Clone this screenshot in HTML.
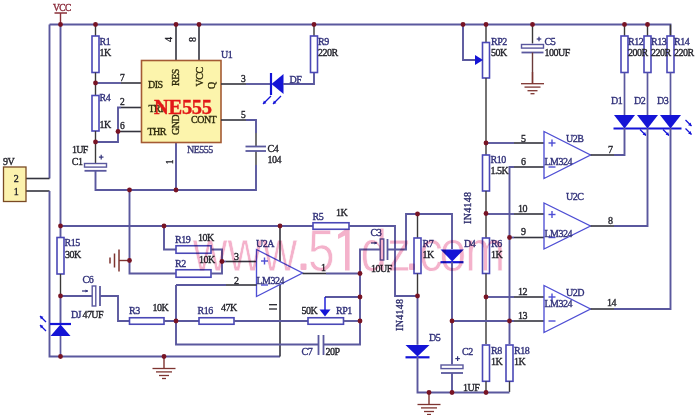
<!DOCTYPE html>
<html><head><meta charset="utf-8"><style>
html,body{margin:0;padding:0;background:#fff;overflow:hidden;}
svg{display:block;}
</style></head><body>
<svg width="700" height="415" viewBox="0 0 700 415">
<rect width="700" height="415" fill="#fff"/>
<polyline points="49.5,24.5 670.5,24.5 670.5,36" fill="none" stroke="#5a589e" stroke-width="1.9"/>
<polyline points="49.5,24.5 49.5,178.5" fill="none" stroke="#5a589e" stroke-width="1.9"/>
<polyline points="26,178.5 49.5,178.5" fill="none" stroke="#34343e" stroke-width="1.6"/>
<polyline points="26,191 49.5,191" fill="none" stroke="#34343e" stroke-width="1.6"/>
<polyline points="49.5,191 49.5,356.5 280,356.5" fill="none" stroke="#5a589e" stroke-width="1.9"/>
<line x1="60.5" y1="13" x2="60.5" y2="24.5" stroke="#8a3038" stroke-width="1.4"/>
<line x1="54.5" y1="13" x2="67" y2="13" stroke="#8a3038" stroke-width="1.5"/>
<polyline points="60.5,24.5 60.5,237.5" fill="none" stroke="#5a589e" stroke-width="1.9"/>
<rect x="57.0" y="237.5" width="7" height="36.5" fill="#fff" stroke="#4a48b6" stroke-width="1.6"/>
<line x1="60.5" y1="274" x2="60.5" y2="296" stroke="#3a3838" stroke-width="1.4"/>
<polyline points="60.5,296 60.5,324" fill="none" stroke="#5a589e" stroke-width="1.9"/>
<line x1="60.5" y1="336" x2="60.5" y2="356.5" stroke="#5a589e" stroke-width="1.7"/>
<line x1="95.5" y1="24.5" x2="95.5" y2="36" stroke="#3a3838" stroke-width="1.4"/>
<rect x="92.0" y="36" width="7" height="36.5" fill="#fff" stroke="#4a48b6" stroke-width="1.6"/>
<line x1="95.5" y1="72.5" x2="95.5" y2="83" stroke="#3a3838" stroke-width="1.4"/>
<line x1="95.5" y1="83" x2="95.5" y2="95.5" stroke="#3a3838" stroke-width="1.4"/>
<rect x="92.0" y="95.5" width="7" height="35.5" fill="#fff" stroke="#4a48b6" stroke-width="1.6"/>
<line x1="95.5" y1="131" x2="95.5" y2="142" stroke="#3a3838" stroke-width="1.4"/>
<polyline points="95.5,83 121,83" fill="none" stroke="#5a589e" stroke-width="1.9"/>
<polyline points="121,83 141.5,83" fill="none" stroke="#34343e" stroke-width="1.6"/>
<polyline points="95.5,142 118,142 118,107.5 121,107.5" fill="none" stroke="#5a589e" stroke-width="1.9"/>
<polyline points="121,107.5 141.5,107.5" fill="none" stroke="#34343e" stroke-width="1.6"/>
<polyline points="118,131.5 141.5,131.5" fill="none" stroke="#34343e" stroke-width="1.6"/>
<line x1="95.5" y1="142" x2="95.5" y2="163" stroke="#3a3838" stroke-width="1.4"/>
<rect x="84.5" y="163.5" width="22" height="3.6" fill="#fff" stroke="#5a589e" stroke-width="1.4"/>
<line x1="84.5" y1="170.8" x2="106.5" y2="170.8" stroke="#5a589e" stroke-width="1.8"/>
<polyline points="95.5,171 95.5,190 256,190 256,165" fill="none" stroke="#5a589e" stroke-width="1.9"/>
<line x1="98.9" y1="157.1" x2="103.5" y2="157.1" stroke="#31317a" stroke-width="1.2"/>
<line x1="101.2" y1="154.79999999999998" x2="101.2" y2="159.4" stroke="#31317a" stroke-width="1.2"/>
<rect x="3.5" y="167" width="22.5" height="34.5" fill="#fcf2ae" stroke="#7a4a24" stroke-width="1.3"/>
<polyline points="176,24.5 176,60" fill="none" stroke="#34343e" stroke-width="1.6"/>
<polyline points="199,24.5 199,60" fill="none" stroke="#34343e" stroke-width="1.6"/>
<polyline points="176,142.5 176,190" fill="none" stroke="#5a589e" stroke-width="1.9"/>
<rect x="141.5" y="60.5" width="79.5" height="82" fill="#fcf4ac" stroke="#a45a34" stroke-width="1.6"/>
<polyline points="221,84 246,84" fill="none" stroke="#34343e" stroke-width="1.6"/>
<polyline points="246,84 271,84" fill="none" stroke="#5a589e" stroke-width="1.9"/>
<polygon points="283.5,74 283.5,94 271.5,84" fill="#1414d6"/>
<line x1="271" y1="73" x2="271" y2="95" stroke="#1414d6" stroke-width="2.2"/>
<polyline points="283,84 314,84 314,72.5" fill="none" stroke="#5a589e" stroke-width="1.9"/>
<line x1="271" y1="96" x2="263" y2="104" stroke="#1414d6" stroke-width="1.2"/>
<polygon points="263,104 266.39,103.15 263.85,100.61" fill="#1414d6"/>
<line x1="281" y1="96" x2="273" y2="104" stroke="#1414d6" stroke-width="1.2"/>
<polygon points="273,104 276.39,103.15 273.85,100.61" fill="#1414d6"/>
<line x1="314" y1="24.5" x2="314" y2="36" stroke="#3a3838" stroke-width="1.4"/>
<rect x="310.5" y="36" width="7" height="36.5" fill="#fff" stroke="#4a48b6" stroke-width="1.6"/>
<polyline points="221,120 246,120" fill="none" stroke="#34343e" stroke-width="1.6"/>
<polyline points="246,120 256,120 256,133" fill="none" stroke="#5a589e" stroke-width="1.9"/>
<line x1="256" y1="133" x2="256" y2="146.5" stroke="#3a3838" stroke-width="1.4"/>
<line x1="256" y1="151" x2="256" y2="165" stroke="#3a3838" stroke-width="1.4"/>
<line x1="245.5" y1="146.5" x2="266" y2="146.5" stroke="#5a589e" stroke-width="1.8"/>
<line x1="245.5" y1="151" x2="266" y2="151" stroke="#5a589e" stroke-width="1.8"/>
<line x1="486" y1="24.5" x2="486" y2="42.5" stroke="#3a3838" stroke-width="1.4"/>
<rect x="482.5" y="42.5" width="7" height="35.5" fill="#fff" stroke="#4a48b6" stroke-width="1.6"/>
<line x1="486" y1="78" x2="486" y2="143" stroke="#3a3838" stroke-width="1.4"/>
<polyline points="463,24.5 463,60 476,60" fill="none" stroke="#5a589e" stroke-width="1.9"/>
<polygon points="483,60 475,55 475,65" fill="#1414d6"/>
<line x1="532.5" y1="24.5" x2="532.5" y2="43.5" stroke="#3a3838" stroke-width="1.4"/>
<rect x="521.5" y="44.5" width="22" height="3.6" fill="#fff" stroke="#5a589e" stroke-width="1.4"/>
<line x1="521.5" y1="52.5" x2="543.5" y2="52.5" stroke="#5a589e" stroke-width="1.8"/>
<line x1="532.5" y1="52.5" x2="532.5" y2="84" stroke="#6a3a3a" stroke-width="1.4"/>
<line x1="532.5" y1="72" x2="532.5" y2="83.7" stroke="#7e3430" stroke-width="1.4"/>
<line x1="521.0" y1="83.7" x2="544.0" y2="83.7" stroke="#7e3430" stroke-width="1.3"/>
<line x1="524.5" y1="87.10000000000001" x2="540.5" y2="87.10000000000001" stroke="#7e3430" stroke-width="1.3"/>
<line x1="527.5" y1="90.7" x2="537.5" y2="90.7" stroke="#7e3430" stroke-width="1.3"/>
<line x1="530.5" y1="93.7" x2="534.5" y2="93.7" stroke="#7e3430" stroke-width="1.3"/>
<line x1="536.7" y1="39" x2="541.3" y2="39" stroke="#31317a" stroke-width="1.2"/>
<line x1="539" y1="36.7" x2="539" y2="41.3" stroke="#31317a" stroke-width="1.2"/>
<line x1="624.5" y1="24.5" x2="624.5" y2="36" stroke="#3a3838" stroke-width="1.4"/>
<rect x="621.0" y="36" width="7" height="36.5" fill="#fff" stroke="#4a48b6" stroke-width="1.6"/>
<line x1="624.5" y1="72.5" x2="624.5" y2="115" stroke="#5a589e" stroke-width="1.7"/>
<polygon points="614.0,115 635.0,115 624.5,128.5" fill="#1414d6"/>
<line x1="647.5" y1="24.5" x2="647.5" y2="36" stroke="#3a3838" stroke-width="1.4"/>
<rect x="644.0" y="36" width="7" height="36.5" fill="#fff" stroke="#4a48b6" stroke-width="1.6"/>
<line x1="647.5" y1="72.5" x2="647.5" y2="115" stroke="#5a589e" stroke-width="1.7"/>
<polygon points="637.0,115 658.0,115 647.5,128.5" fill="#1414d6"/>
<line x1="670.5" y1="24.5" x2="670.5" y2="36" stroke="#3a3838" stroke-width="1.4"/>
<rect x="667.0" y="36" width="7" height="36.5" fill="#fff" stroke="#4a48b6" stroke-width="1.6"/>
<line x1="670.5" y1="72.5" x2="670.5" y2="115" stroke="#5a589e" stroke-width="1.7"/>
<polygon points="660.0,115 681.0,115 670.5,128.5" fill="#1414d6"/>
<line x1="613.5" y1="128.5" x2="681.5" y2="128.5" stroke="#1414d6" stroke-width="2.2"/>
<line x1="640" y1="129.5" x2="646" y2="135.5" stroke="#1414d6" stroke-width="1.2"/>
<polygon points="646,135.5 645.15,132.11 642.61,134.65" fill="#1414d6"/>
<line x1="663" y1="129.5" x2="669" y2="135.5" stroke="#1414d6" stroke-width="1.2"/>
<polygon points="669,135.5 668.15,132.11 665.61,134.65" fill="#1414d6"/>
<line x1="685.5" y1="120" x2="691.5" y2="126" stroke="#1414d6" stroke-width="1.2"/>
<polygon points="691.5,126 690.65,122.61 688.11,125.15" fill="#1414d6"/>
<line x1="685.5" y1="128.5" x2="691.5" y2="134.5" stroke="#1414d6" stroke-width="1.2"/>
<polygon points="691.5,134.5 690.65,131.11 688.11,133.65" fill="#1414d6"/>
<line x1="486" y1="143" x2="486" y2="155" stroke="#3a3838" stroke-width="1.4"/>
<rect x="482.5" y="155" width="7" height="36" fill="#fff" stroke="#4a48b6" stroke-width="1.6"/>
<line x1="486" y1="191" x2="486" y2="238" stroke="#3a3838" stroke-width="1.4"/>
<rect x="482.5" y="238" width="7" height="35.5" fill="#fff" stroke="#4a48b6" stroke-width="1.6"/>
<line x1="486" y1="273.5" x2="486" y2="344" stroke="#3a3838" stroke-width="1.4"/>
<rect x="482.5" y="345" width="7" height="36.30000000000001" fill="#fff" stroke="#4a48b6" stroke-width="1.6"/>
<line x1="486" y1="381.3" x2="486" y2="392" stroke="#3a3838" stroke-width="1.4"/>
<polyline points="514,167 509.5,167 509.5,344" fill="none" stroke="#5a589e" stroke-width="1.9"/>
<rect x="506.0" y="345" width="7" height="36.30000000000001" fill="#fff" stroke="#4a48b6" stroke-width="1.6"/>
<line x1="509.5" y1="381.3" x2="509.5" y2="392" stroke="#3a3838" stroke-width="1.4"/>
<polyline points="486,143 514,143" fill="none" stroke="#5a589e" stroke-width="1.9"/>
<polyline points="514,143 544,143" fill="none" stroke="#34343e" stroke-width="1.6"/>
<polyline points="514,167 544,167" fill="none" stroke="#34343e" stroke-width="1.6"/>
<polyline points="486,214 514,214" fill="none" stroke="#5a589e" stroke-width="1.9"/>
<polyline points="514,214 544,214" fill="none" stroke="#34343e" stroke-width="1.6"/>
<polyline points="509.5,237.5 514,237.5" fill="none" stroke="#5a589e" stroke-width="1.9"/>
<polyline points="514,237.5 544,237.5" fill="none" stroke="#34343e" stroke-width="1.6"/>
<polyline points="486,297 514,297" fill="none" stroke="#5a589e" stroke-width="1.9"/>
<polyline points="514,297 544,297" fill="none" stroke="#34343e" stroke-width="1.6"/>
<polyline points="452,321 514,321" fill="none" stroke="#5a589e" stroke-width="1.9"/>
<polyline points="514,321 544,321" fill="none" stroke="#34343e" stroke-width="1.6"/>
<polygon points="544,131.5 544,178.5 590.5,155.0" fill="#fff" stroke="#4e4ed4" stroke-width="1.35"/>
<line x1="548.5" y1="143.0" x2="555.5" y2="143.0" stroke="#4e4ed4" stroke-width="1.4"/>
<line x1="552" y1="139.5" x2="552" y2="146.5" stroke="#4e4ed4" stroke-width="1.4"/>
<line x1="548.5" y1="167.0" x2="555.5" y2="167.0" stroke="#4e4ed4" stroke-width="1.4"/>
<polygon points="544,203 544,249 590.5,226.0" fill="#fff" stroke="#4e4ed4" stroke-width="1.35"/>
<line x1="548.5" y1="214.5" x2="555.5" y2="214.5" stroke="#4e4ed4" stroke-width="1.4"/>
<line x1="552" y1="211" x2="552" y2="218" stroke="#4e4ed4" stroke-width="1.4"/>
<line x1="548.5" y1="237.5" x2="555.5" y2="237.5" stroke="#4e4ed4" stroke-width="1.4"/>
<polygon points="544,285.5 544,332.5 590.5,309.0" fill="#fff" stroke="#4e4ed4" stroke-width="1.35"/>
<line x1="548.5" y1="297.0" x2="555.5" y2="297.0" stroke="#4e4ed4" stroke-width="1.4"/>
<line x1="552" y1="293.5" x2="552" y2="300.5" stroke="#4e4ed4" stroke-width="1.4"/>
<line x1="548.5" y1="321.0" x2="555.5" y2="321.0" stroke="#4e4ed4" stroke-width="1.4"/>
<polyline points="590.5,155 614,155" fill="none" stroke="#34343e" stroke-width="1.6"/>
<polyline points="614,155 624.5,155 624.5,128" fill="none" stroke="#5a589e" stroke-width="1.9"/>
<polyline points="590.5,226 614,226" fill="none" stroke="#34343e" stroke-width="1.6"/>
<polyline points="614,226 647.5,226 647.5,128" fill="none" stroke="#5a589e" stroke-width="1.9"/>
<polyline points="590.5,309 614,309" fill="none" stroke="#34343e" stroke-width="1.6"/>
<polyline points="614,309 670.5,309 670.5,128" fill="none" stroke="#5a589e" stroke-width="1.9"/>
<polyline points="129.5,190 129.5,273.5 176,273.5" fill="none" stroke="#5a589e" stroke-width="1.9"/>
<line x1="119" y1="260.5" x2="129.5" y2="260.5" stroke="#7e3430" stroke-width="1.4"/>
<line x1="119" y1="249.5" x2="119" y2="271.5" stroke="#7e3430" stroke-width="1.5"/>
<line x1="114.5" y1="253.5" x2="114.5" y2="267.5" stroke="#7e3430" stroke-width="1.5"/>
<line x1="110" y1="257.5" x2="110" y2="263.5" stroke="#7e3430" stroke-width="1.5"/>
<polyline points="60.5,226 313,226" fill="none" stroke="#5a589e" stroke-width="1.9"/>
<polyline points="164,226 164,249.5 176,249.5" fill="none" stroke="#5a589e" stroke-width="1.9"/>
<rect x="176" y="245.75" width="35" height="7.5" fill="#fff" stroke="#4a48b6" stroke-width="1.6"/>
<rect x="176" y="269.75" width="35" height="7.5" fill="#fff" stroke="#4a48b6" stroke-width="1.6"/>
<polyline points="211,249.5 222,249.5 222,273.5 211,273.5" fill="none" stroke="#5a589e" stroke-width="1.9"/>
<polyline points="222,261.5 226,261.5" fill="none" stroke="#5a589e" stroke-width="1.9"/>
<polyline points="226,261.5 256.5,261.5" fill="none" stroke="#34343e" stroke-width="1.6"/>
<rect x="313" y="222.75" width="36" height="6.5" fill="#fff" stroke="#4a48b6" stroke-width="1.6"/>
<polyline points="280,226 280,356.5" fill="none" stroke="#34343e" stroke-width="1.6"/>
<polygon points="256.5,249.5 256.5,296.5 302.5,273.0" fill="#fff" stroke="#4e4ed4" stroke-width="1.35"/>
<line x1="261.0" y1="261.0" x2="268.0" y2="261.0" stroke="#4e4ed4" stroke-width="1.4"/>
<line x1="264.5" y1="257.5" x2="264.5" y2="264.5" stroke="#4e4ed4" stroke-width="1.4"/>
<line x1="261.0" y1="285.0" x2="268.0" y2="285.0" stroke="#4e4ed4" stroke-width="1.4"/>
<line x1="269" y1="304.7" x2="277" y2="304.7" stroke="#24242c" stroke-width="1.3"/>
<line x1="269" y1="309" x2="277" y2="309" stroke="#24242c" stroke-width="1.3"/>
<polyline points="302.5,273.5 326,273.5" fill="none" stroke="#34343e" stroke-width="1.6"/>
<polyline points="326,273.5 360,273.5" fill="none" stroke="#5a589e" stroke-width="1.9"/>
<polyline points="176,285 226,285" fill="none" stroke="#5a589e" stroke-width="1.9"/>
<polyline points="226,285 256.5,285" fill="none" stroke="#34343e" stroke-width="1.6"/>
<polyline points="176,285 176,344.5 318.5,344.5" fill="none" stroke="#5a589e" stroke-width="1.9"/>
<polyline points="323.5,344.5 360,344.5 360,249.5 381,249.5" fill="none" stroke="#5a589e" stroke-width="1.9"/>
<line x1="318.5" y1="335" x2="318.5" y2="355" stroke="#5a589e" stroke-width="1.8"/>
<line x1="323.5" y1="335" x2="323.5" y2="355" stroke="#5a589e" stroke-width="1.8"/>
<polyline points="60.5,296 92.5,296" fill="none" stroke="#5a589e" stroke-width="1.9"/>
<rect x="92.2" y="286" width="3.6" height="20" fill="#fff" stroke="#5a589e" stroke-width="1.4"/>
<line x1="100" y1="286" x2="100" y2="306" stroke="#5a589e" stroke-width="1.8"/>
<polyline points="100,296 118,296 118,321 129.5,321" fill="none" stroke="#5a589e" stroke-width="1.9"/>
<rect x="129.5" y="317.75" width="34.5" height="6.5" fill="#fff" stroke="#4a48b6" stroke-width="1.6"/>
<polyline points="164,321 199,321" fill="none" stroke="#5a589e" stroke-width="1.9"/>
<rect x="199" y="317.75" width="35" height="6.5" fill="#fff" stroke="#4a48b6" stroke-width="1.6"/>
<polyline points="234,321 308,321" fill="none" stroke="#5a589e" stroke-width="1.9"/>
<rect x="308" y="317.75" width="35.5" height="6.5" fill="#fff" stroke="#4a48b6" stroke-width="1.6"/>
<polyline points="343.5,321 360,321" fill="none" stroke="#5a589e" stroke-width="1.9"/>
<polyline points="325,297 360,297" fill="none" stroke="#5a589e" stroke-width="1.9"/>
<line x1="325" y1="297" x2="325" y2="310" stroke="#1414d6" stroke-width="1.4"/>
<polygon points="319.5,309.5 330.5,309.5 325,316.5" fill="#1414d6"/>
<line x1="82" y1="291" x2="88" y2="291" stroke="#31317a" stroke-width="1.2"/>
<polygon points="88,291 85.50,289.50 85.50,292.50" fill="#31317a"/>
<polygon points="50.5,336 70.5,336 60.5,324.5" fill="#1414d6"/>
<line x1="50" y1="324" x2="71" y2="324" stroke="#1414d6" stroke-width="2.2"/>
<line x1="46" y1="322" x2="40" y2="316" stroke="#1414d6" stroke-width="1.2"/>
<polygon points="40,316 40.85,319.39 43.39,316.85" fill="#1414d6"/>
<line x1="46" y1="331" x2="40" y2="325" stroke="#1414d6" stroke-width="1.2"/>
<polygon points="40,325 40.85,328.39 43.39,325.85" fill="#1414d6"/>
<line x1="164" y1="356.5" x2="164" y2="368.5" stroke="#7e3430" stroke-width="1.4"/>
<line x1="152.5" y1="368.5" x2="175.5" y2="368.5" stroke="#7e3430" stroke-width="1.3"/>
<line x1="156" y1="371.9" x2="172" y2="371.9" stroke="#7e3430" stroke-width="1.3"/>
<line x1="159" y1="375.5" x2="169" y2="375.5" stroke="#7e3430" stroke-width="1.3"/>
<line x1="162" y1="378.5" x2="166" y2="378.5" stroke="#7e3430" stroke-width="1.3"/>
<rect x="380.2" y="239.0" width="3.6" height="21.0" fill="#fff" stroke="#5a589e" stroke-width="1.4"/>
<line x1="387.5" y1="239.0" x2="387.5" y2="260.0" stroke="#5a589e" stroke-width="1.8"/>
<polyline points="387.5,249.5 406,249.5 406,214 452,214 452,249" fill="none" stroke="#5a589e" stroke-width="1.9"/>
<polyline points="349,226 395,226 395,296 417.5,296" fill="none" stroke="#5a589e" stroke-width="1.9"/>
<line x1="417.5" y1="214" x2="417.5" y2="238" stroke="#3a3838" stroke-width="1.4"/>
<rect x="414.0" y="238" width="7" height="35.5" fill="#fff" stroke="#4a48b6" stroke-width="1.6"/>
<line x1="417.5" y1="273.5" x2="417.5" y2="296" stroke="#3a3838" stroke-width="1.4"/>
<polyline points="417.5,296 417.5,344.8" fill="none" stroke="#5a589e" stroke-width="1.9"/>
<polygon points="405.5,345 429.5,345 417.5,356.5" fill="#1414d6"/>
<line x1="405.5" y1="357.3" x2="429.5" y2="357.3" stroke="#1414d6" stroke-width="2.2"/>
<polyline points="417.5,357 417.5,392.5 509.5,392.5" fill="none" stroke="#5a589e" stroke-width="1.9"/>
<polygon points="440.5,249.4 463.8,249.4 452.2,261.5" fill="#1414d6"/>
<line x1="440.5" y1="262.2" x2="463.5" y2="262.2" stroke="#1414d6" stroke-width="2.2"/>
<polyline points="452,262 452,364.5" fill="none" stroke="#5a589e" stroke-width="1.9"/>
<rect x="441" y="365.0" width="22" height="3.6" fill="#fff" stroke="#5a589e" stroke-width="1.4"/>
<line x1="441" y1="373" x2="463" y2="373" stroke="#5a589e" stroke-width="1.8"/>
<polyline points="452,373 452,392.5" fill="none" stroke="#5a589e" stroke-width="1.9"/>
<line x1="429" y1="392.5" x2="429" y2="404.5" stroke="#7e3430" stroke-width="1.4"/>
<line x1="417.5" y1="404.5" x2="440.5" y2="404.5" stroke="#7e3430" stroke-width="1.3"/>
<line x1="421" y1="407.9" x2="437" y2="407.9" stroke="#7e3430" stroke-width="1.3"/>
<line x1="424" y1="411.5" x2="434" y2="411.5" stroke="#7e3430" stroke-width="1.3"/>
<line x1="427" y1="414.5" x2="431" y2="414.5" stroke="#7e3430" stroke-width="1.3"/>
<line x1="371" y1="243" x2="377" y2="243" stroke="#31317a" stroke-width="1.2"/>
<polygon points="377,243 374.50,241.50 374.50,244.50" fill="#31317a"/>
<line x1="455.3" y1="358.6" x2="459.90000000000003" y2="358.6" stroke="#31317a" stroke-width="1.2"/>
<line x1="457.6" y1="356.3" x2="457.6" y2="360.90000000000003" stroke="#31317a" stroke-width="1.2"/>
<circle cx="60.5" cy="24.5" r="2.4" fill="#781424"/>
<circle cx="95.5" cy="24.5" r="2.4" fill="#781424"/>
<circle cx="176" cy="24.5" r="2.4" fill="#781424"/>
<circle cx="199" cy="24.5" r="2.4" fill="#781424"/>
<circle cx="314" cy="24.5" r="2.4" fill="#781424"/>
<circle cx="463" cy="24.5" r="2.4" fill="#781424"/>
<circle cx="486" cy="24.5" r="2.4" fill="#781424"/>
<circle cx="532.5" cy="24.5" r="2.4" fill="#781424"/>
<circle cx="624.5" cy="24.5" r="2.4" fill="#781424"/>
<circle cx="647.5" cy="24.5" r="2.4" fill="#781424"/>
<circle cx="95.5" cy="83" r="2.4" fill="#781424"/>
<circle cx="95.5" cy="142" r="2.4" fill="#781424"/>
<circle cx="118" cy="131.5" r="2.4" fill="#781424"/>
<circle cx="129.5" cy="190" r="2.4" fill="#781424"/>
<circle cx="176" cy="190" r="2.4" fill="#781424"/>
<circle cx="60.5" cy="226" r="2.4" fill="#781424"/>
<circle cx="164" cy="226" r="2.4" fill="#781424"/>
<circle cx="280" cy="226" r="2.4" fill="#781424"/>
<circle cx="129.5" cy="260.5" r="2.4" fill="#781424"/>
<circle cx="222" cy="261.5" r="2.4" fill="#781424"/>
<circle cx="60.5" cy="296" r="2.4" fill="#781424"/>
<circle cx="60.5" cy="356.5" r="2.4" fill="#781424"/>
<circle cx="164" cy="356.5" r="2.4" fill="#781424"/>
<circle cx="176" cy="321" r="2.4" fill="#781424"/>
<circle cx="360" cy="273.5" r="2.4" fill="#781424"/>
<circle cx="360" cy="297" r="2.4" fill="#781424"/>
<circle cx="360" cy="321" r="2.4" fill="#781424"/>
<circle cx="417.5" cy="214" r="2.4" fill="#781424"/>
<circle cx="417.5" cy="296" r="2.4" fill="#781424"/>
<circle cx="452" cy="321" r="2.4" fill="#781424"/>
<circle cx="429" cy="392.5" r="2.4" fill="#781424"/>
<circle cx="452" cy="392.5" r="2.4" fill="#781424"/>
<circle cx="486" cy="392.5" r="2.4" fill="#781424"/>
<circle cx="486" cy="143" r="2.4" fill="#781424"/>
<circle cx="486" cy="213.5" r="2.4" fill="#781424"/>
<circle cx="509.5" cy="237.5" r="2.4" fill="#781424"/>
<circle cx="486" cy="297" r="2.4" fill="#781424"/>
<circle cx="509.5" cy="321" r="2.4" fill="#781424"/>
<text x="53" y="10.8" fill="#8a2a3a" stroke="#8a2a3a" stroke-width="0.35" font-size="9.5" font-family="Liberation Serif" font-weight="normal" text-anchor="start" letter-spacing="-0.6">VCC</text>
<text x="64.5" y="245.5" fill="#31317a" stroke="#31317a" stroke-width="0.35" font-size="10" font-family="Liberation Serif" font-weight="normal" text-anchor="start" letter-spacing="-0.5">R15</text>
<text x="65" y="257.5" fill="#24242c" stroke="#24242c" stroke-width="0.35" font-size="10" font-family="Liberation Serif" font-weight="normal" text-anchor="start" letter-spacing="-0.5">30K</text>
<text x="99.5" y="45" fill="#31317a" stroke="#31317a" stroke-width="0.35" font-size="10" font-family="Liberation Serif" font-weight="normal" text-anchor="start" letter-spacing="-0.5">R1</text>
<text x="99.5" y="56" fill="#24242c" stroke="#24242c" stroke-width="0.35" font-size="10" font-family="Liberation Serif" font-weight="normal" text-anchor="start" letter-spacing="-0.5">1K</text>
<text x="99.5" y="100.5" fill="#31317a" stroke="#31317a" stroke-width="0.35" font-size="10" font-family="Liberation Serif" font-weight="normal" text-anchor="start" letter-spacing="-0.5">R4</text>
<text x="99.5" y="127.5" fill="#24242c" stroke="#24242c" stroke-width="0.35" font-size="10" font-family="Liberation Serif" font-weight="normal" text-anchor="start" letter-spacing="-0.5">1K</text>
<text x="120" y="81" fill="#24242c" stroke="#24242c" stroke-width="0.35" font-size="9.5" font-family="Liberation Serif" font-weight="normal" text-anchor="start" letter-spacing="-0.5">7</text>
<text x="120" y="105" fill="#24242c" stroke="#24242c" stroke-width="0.35" font-size="9.5" font-family="Liberation Serif" font-weight="normal" text-anchor="start" letter-spacing="-0.5">2</text>
<text x="120" y="129" fill="#24242c" stroke="#24242c" stroke-width="0.35" font-size="9.5" font-family="Liberation Serif" font-weight="normal" text-anchor="start" letter-spacing="-0.5">6</text>
<text x="72" y="153.2" fill="#24242c" stroke="#24242c" stroke-width="0.35" font-size="10" font-family="Liberation Serif" font-weight="normal" text-anchor="start" letter-spacing="-0.7">1UF</text>
<text x="71.8" y="164.5" fill="#24242c" stroke="#24242c" stroke-width="0.35" font-size="10" font-family="Liberation Serif" font-weight="normal" text-anchor="start" letter-spacing="-0.5">C1</text>
<text x="3" y="165" fill="#24242c" stroke="#24242c" stroke-width="0.35" font-size="10" font-family="Liberation Serif" font-weight="normal" text-anchor="start" letter-spacing="-0.5">9V</text>
<text x="16" y="182" fill="#24242c" stroke="#24242c" stroke-width="0.35" font-size="10" font-family="Liberation Serif" font-weight="normal" text-anchor="middle" letter-spacing="-0.5">2</text>
<text x="16" y="194.5" fill="#24242c" stroke="#24242c" stroke-width="0.35" font-size="10" font-family="Liberation Serif" font-weight="normal" text-anchor="middle" letter-spacing="-0.5">1</text>
<text x="148" y="87.5" fill="#2e2a0c" stroke="#2e2a0c" stroke-width="0.35" font-size="10" font-family="Liberation Serif" font-weight="normal" text-anchor="start" letter-spacing="-0.5">DIS</text>
<text x="148.5" y="111.5" fill="#2e2a0c" stroke="#2e2a0c" stroke-width="0.35" font-size="10" font-family="Liberation Serif" font-weight="normal" text-anchor="start" letter-spacing="-0.5">TRI</text>
<text x="147.5" y="134.5" fill="#2e2a0c" stroke="#2e2a0c" stroke-width="0.35" font-size="10" font-family="Liberation Serif" font-weight="normal" text-anchor="start" letter-spacing="-0.5">THR</text>
<text x="191" y="123" fill="#2e2a0c" stroke="#2e2a0c" stroke-width="0.35" font-size="10" font-family="Liberation Serif" font-weight="normal" text-anchor="start" letter-spacing="-0.5">CONT</text>
<text x="179" y="86" fill="#2e2a0c" stroke="#2e2a0c" stroke-width="0.35" font-size="10" font-family="Liberation Serif" font-weight="normal" text-anchor="start" letter-spacing="-0.5" transform="rotate(-90 179 86)">RES</text>
<text x="202.5" y="86.5" fill="#2e2a0c" stroke="#2e2a0c" stroke-width="0.35" font-size="10" font-family="Liberation Serif" font-weight="normal" text-anchor="start" letter-spacing="-0.5" transform="rotate(-90 202.5 86.5)">VCC</text>
<text x="215" y="89" fill="#2e2a0c" stroke="#2e2a0c" stroke-width="0.35" font-size="10" font-family="Liberation Serif" font-weight="normal" text-anchor="start" letter-spacing="-0.5" transform="rotate(-90 215 89)">Q</text>
<text x="179" y="135" fill="#2e2a0c" stroke="#2e2a0c" stroke-width="0.35" font-size="10" font-family="Liberation Serif" font-weight="normal" text-anchor="start" letter-spacing="-0.5" transform="rotate(-90 179 135)">GND</text>
<text x="154" y="114" fill="#e21818" stroke="#e21818" stroke-width="0.4" font-size="20.5" font-family="Liberation Serif" font-weight="bold" text-anchor="start" letter-spacing="-0.3">NE555</text>
<text x="187" y="153" fill="#3a3a78" stroke="#3a3a78" stroke-width="0.35" font-size="10" font-family="Liberation Serif" font-weight="normal" text-anchor="start" letter-spacing="-0.5">NE555</text>
<text x="221" y="57.5" fill="#31317a" stroke="#31317a" stroke-width="0.35" font-size="10" font-family="Liberation Serif" font-weight="normal" text-anchor="start" letter-spacing="-0.5">U1</text>
<text x="172.5" y="39.8" fill="#24242c" stroke="#24242c" stroke-width="0.35" font-size="10" font-family="Liberation Serif" font-weight="normal" text-anchor="middle" letter-spacing="-0.5" transform="rotate(-90 172.5 39.8)">4</text>
<text x="196" y="39.8" fill="#24242c" stroke="#24242c" stroke-width="0.35" font-size="10" font-family="Liberation Serif" font-weight="normal" text-anchor="middle" letter-spacing="-0.5" transform="rotate(-90 196 39.8)">8</text>
<text x="172.5" y="162" fill="#24242c" stroke="#24242c" stroke-width="0.35" font-size="9.5" font-family="Liberation Serif" font-weight="normal" text-anchor="middle" letter-spacing="-0.5" transform="rotate(-90 172.5 162)">1</text>
<text x="241" y="81.5" fill="#24242c" stroke="#24242c" stroke-width="0.35" font-size="9.5" font-family="Liberation Serif" font-weight="normal" text-anchor="start" letter-spacing="-0.5">3</text>
<text x="289.5" y="82.8" fill="#31317a" stroke="#31317a" stroke-width="0.35" font-size="10" font-family="Liberation Serif" font-weight="normal" text-anchor="start" letter-spacing="-0.5">DF</text>
<text x="318" y="45" fill="#31317a" stroke="#31317a" stroke-width="0.35" font-size="10" font-family="Liberation Serif" font-weight="normal" text-anchor="start" letter-spacing="-0.5">R9</text>
<text x="318" y="56" fill="#24242c" stroke="#24242c" stroke-width="0.35" font-size="10" font-family="Liberation Serif" font-weight="normal" text-anchor="start" letter-spacing="-0.5">220R</text>
<text x="241" y="117.5" fill="#24242c" stroke="#24242c" stroke-width="0.35" font-size="9.5" font-family="Liberation Serif" font-weight="normal" text-anchor="start" letter-spacing="-0.5">5</text>
<text x="267.5" y="151.5" fill="#24242c" stroke="#24242c" stroke-width="0.35" font-size="10" font-family="Liberation Serif" font-weight="normal" text-anchor="start" letter-spacing="-0.5">C4</text>
<text x="267.5" y="162.5" fill="#24242c" stroke="#24242c" stroke-width="0.35" font-size="10" font-family="Liberation Serif" font-weight="normal" text-anchor="start" letter-spacing="-0.5">104</text>
<text x="491" y="45" fill="#31317a" stroke="#31317a" stroke-width="0.35" font-size="10" font-family="Liberation Serif" font-weight="normal" text-anchor="start" letter-spacing="-0.5">RP2</text>
<text x="491" y="56" fill="#24242c" stroke="#24242c" stroke-width="0.35" font-size="10" font-family="Liberation Serif" font-weight="normal" text-anchor="start" letter-spacing="-0.5">50K</text>
<text x="544.5" y="45" fill="#31317a" stroke="#31317a" stroke-width="0.35" font-size="10" font-family="Liberation Serif" font-weight="normal" text-anchor="start" letter-spacing="-0.5">C5</text>
<text x="544.5" y="56" fill="#24242c" stroke="#24242c" stroke-width="0.35" font-size="10" font-family="Liberation Serif" font-weight="normal" text-anchor="start" letter-spacing="-0.5">100UF</text>
<text x="628.0" y="45" fill="#31317a" stroke="#31317a" stroke-width="0.35" font-size="10" font-family="Liberation Serif" font-weight="normal" text-anchor="start" letter-spacing="-0.5">R12</text>
<text x="628.0" y="56" fill="#24242c" stroke="#24242c" stroke-width="0.35" font-size="10" font-family="Liberation Serif" font-weight="normal" text-anchor="start" letter-spacing="-0.5">200R</text>
<text x="651.0" y="45" fill="#31317a" stroke="#31317a" stroke-width="0.35" font-size="10" font-family="Liberation Serif" font-weight="normal" text-anchor="start" letter-spacing="-0.5">R13</text>
<text x="651.0" y="56" fill="#24242c" stroke="#24242c" stroke-width="0.35" font-size="10" font-family="Liberation Serif" font-weight="normal" text-anchor="start" letter-spacing="-0.5">220R</text>
<text x="674.0" y="45" fill="#31317a" stroke="#31317a" stroke-width="0.35" font-size="10" font-family="Liberation Serif" font-weight="normal" text-anchor="start" letter-spacing="-0.5">R14</text>
<text x="674.0" y="56" fill="#24242c" stroke="#24242c" stroke-width="0.35" font-size="10" font-family="Liberation Serif" font-weight="normal" text-anchor="start" letter-spacing="-0.5">220R</text>
<text x="611" y="104" fill="#31317a" stroke="#31317a" stroke-width="0.35" font-size="10" font-family="Liberation Serif" font-weight="normal" text-anchor="start" letter-spacing="-0.5">D1</text>
<text x="634" y="104" fill="#31317a" stroke="#31317a" stroke-width="0.35" font-size="10" font-family="Liberation Serif" font-weight="normal" text-anchor="start" letter-spacing="-0.5">D2</text>
<text x="657" y="104" fill="#31317a" stroke="#31317a" stroke-width="0.35" font-size="10" font-family="Liberation Serif" font-weight="normal" text-anchor="start" letter-spacing="-0.5">D3</text>
<text x="490.5" y="162.5" fill="#31317a" stroke="#31317a" stroke-width="0.35" font-size="10" font-family="Liberation Serif" font-weight="normal" text-anchor="start" letter-spacing="-0.5">R10</text>
<text x="490.5" y="174" fill="#24242c" stroke="#24242c" stroke-width="0.35" font-size="10" font-family="Liberation Serif" font-weight="normal" text-anchor="start" letter-spacing="-0.5">1.5K</text>
<text x="491" y="246.5" fill="#31317a" stroke="#31317a" stroke-width="0.35" font-size="10" font-family="Liberation Serif" font-weight="normal" text-anchor="start" letter-spacing="-0.5">R6</text>
<text x="491" y="257.5" fill="#24242c" stroke="#24242c" stroke-width="0.35" font-size="10" font-family="Liberation Serif" font-weight="normal" text-anchor="start" letter-spacing="-0.5">1K</text>
<text x="491" y="353.5" fill="#31317a" stroke="#31317a" stroke-width="0.35" font-size="10" font-family="Liberation Serif" font-weight="normal" text-anchor="start" letter-spacing="-0.5">R8</text>
<text x="491" y="365" fill="#24242c" stroke="#24242c" stroke-width="0.35" font-size="10" font-family="Liberation Serif" font-weight="normal" text-anchor="start" letter-spacing="-0.5">1K</text>
<text x="514" y="353.5" fill="#31317a" stroke="#31317a" stroke-width="0.35" font-size="10" font-family="Liberation Serif" font-weight="normal" text-anchor="start" letter-spacing="-0.5">R18</text>
<text x="514" y="365" fill="#24242c" stroke="#24242c" stroke-width="0.35" font-size="10" font-family="Liberation Serif" font-weight="normal" text-anchor="start" letter-spacing="-0.5">1K</text>
<text x="521" y="141.5" fill="#24242c" stroke="#24242c" stroke-width="0.35" font-size="10" font-family="Liberation Serif" font-weight="normal" text-anchor="start" letter-spacing="-0.5">5</text>
<text x="521" y="164.5" fill="#24242c" stroke="#24242c" stroke-width="0.35" font-size="10" font-family="Liberation Serif" font-weight="normal" text-anchor="start" letter-spacing="-0.5">6</text>
<text x="518" y="211.5" fill="#24242c" stroke="#24242c" stroke-width="0.35" font-size="10" font-family="Liberation Serif" font-weight="normal" text-anchor="start" letter-spacing="-0.5">10</text>
<text x="521" y="235" fill="#24242c" stroke="#24242c" stroke-width="0.35" font-size="10" font-family="Liberation Serif" font-weight="normal" text-anchor="start" letter-spacing="-0.5">9</text>
<text x="518" y="295" fill="#24242c" stroke="#24242c" stroke-width="0.35" font-size="10" font-family="Liberation Serif" font-weight="normal" text-anchor="start" letter-spacing="-0.5">12</text>
<text x="518" y="319" fill="#24242c" stroke="#24242c" stroke-width="0.35" font-size="10" font-family="Liberation Serif" font-weight="normal" text-anchor="start" letter-spacing="-0.5">13</text>
<text x="566" y="141.5" fill="#31317a" stroke="#31317a" stroke-width="0.35" font-size="10" font-family="Liberation Serif" font-weight="normal" text-anchor="start" letter-spacing="-0.5">U2B</text>
<text x="544.5" y="165" fill="#31317a" stroke="#31317a" stroke-width="0.35" font-size="10" font-family="Liberation Serif" font-weight="normal" text-anchor="start" letter-spacing="-0.5">LM324</text>
<text x="566" y="200" fill="#31317a" stroke="#31317a" stroke-width="0.35" font-size="10" font-family="Liberation Serif" font-weight="normal" text-anchor="start" letter-spacing="-0.5">U2C</text>
<text x="544.5" y="236.5" fill="#31317a" stroke="#31317a" stroke-width="0.35" font-size="10" font-family="Liberation Serif" font-weight="normal" text-anchor="start" letter-spacing="-0.5">LM324</text>
<text x="566" y="295.5" fill="#31317a" stroke="#31317a" stroke-width="0.35" font-size="10" font-family="Liberation Serif" font-weight="normal" text-anchor="start" letter-spacing="-0.5">U2D</text>
<text x="544.5" y="306.5" fill="#31317a" stroke="#31317a" stroke-width="0.35" font-size="10" font-family="Liberation Serif" font-weight="normal" text-anchor="start" letter-spacing="-0.5">LM324</text>
<text x="608" y="152.5" fill="#24242c" stroke="#24242c" stroke-width="0.35" font-size="10" font-family="Liberation Serif" font-weight="normal" text-anchor="start" letter-spacing="-0.5">7</text>
<text x="608" y="223.5" fill="#24242c" stroke="#24242c" stroke-width="0.35" font-size="10" font-family="Liberation Serif" font-weight="normal" text-anchor="start" letter-spacing="-0.5">8</text>
<text x="607" y="306" fill="#24242c" stroke="#24242c" stroke-width="0.35" font-size="10" font-family="Liberation Serif" font-weight="normal" text-anchor="start" letter-spacing="-0.5">14</text>
<text x="175" y="242.5" fill="#31317a" stroke="#31317a" stroke-width="0.35" font-size="10" font-family="Liberation Serif" font-weight="normal" text-anchor="start" letter-spacing="-0.5">R19</text>
<text x="198" y="240.5" fill="#24242c" stroke="#24242c" stroke-width="0.35" font-size="10" font-family="Liberation Serif" font-weight="normal" text-anchor="start" letter-spacing="-0.5">10K</text>
<text x="175" y="266.5" fill="#31317a" stroke="#31317a" stroke-width="0.35" font-size="10" font-family="Liberation Serif" font-weight="normal" text-anchor="start" letter-spacing="-0.5">R2</text>
<text x="199" y="262.5" fill="#24242c" stroke="#24242c" stroke-width="0.35" font-size="10" font-family="Liberation Serif" font-weight="normal" text-anchor="start" letter-spacing="-0.5">10K</text>
<text x="312.5" y="219.5" fill="#31317a" stroke="#31317a" stroke-width="0.35" font-size="10" font-family="Liberation Serif" font-weight="normal" text-anchor="start" letter-spacing="-0.5">R5</text>
<text x="336" y="216" fill="#24242c" stroke="#24242c" stroke-width="0.35" font-size="10" font-family="Liberation Serif" font-weight="normal" text-anchor="start" letter-spacing="-0.5">1K</text>
<text x="256" y="247" fill="#31317a" stroke="#31317a" stroke-width="0.35" font-size="10" font-family="Liberation Serif" font-weight="normal" text-anchor="start" letter-spacing="-0.5">U2A</text>
<text x="256.5" y="283.5" fill="#31317a" stroke="#31317a" stroke-width="0.35" font-size="10" font-family="Liberation Serif" font-weight="normal" text-anchor="start" letter-spacing="-0.5">LM324</text>
<text x="234" y="259.5" fill="#24242c" stroke="#24242c" stroke-width="0.35" font-size="10" font-family="Liberation Serif" font-weight="normal" text-anchor="start" letter-spacing="-0.5">3</text>
<text x="234" y="283.5" fill="#24242c" stroke="#24242c" stroke-width="0.35" font-size="10" font-family="Liberation Serif" font-weight="normal" text-anchor="start" letter-spacing="-0.5">2</text>
<text x="321" y="270.5" fill="#24242c" stroke="#24242c" stroke-width="0.35" font-size="10" font-family="Liberation Serif" font-weight="normal" text-anchor="start" letter-spacing="-0.5">1</text>
<text x="301.6" y="354.5" fill="#31317a" stroke="#31317a" stroke-width="0.35" font-size="10" font-family="Liberation Serif" font-weight="normal" text-anchor="start" letter-spacing="-0.5">C7</text>
<text x="325.5" y="354.5" fill="#24242c" stroke="#24242c" stroke-width="0.35" font-size="10" font-family="Liberation Serif" font-weight="normal" text-anchor="start" letter-spacing="-0.5">20P</text>
<text x="82.5" y="282.5" fill="#31317a" stroke="#31317a" stroke-width="0.35" font-size="10" font-family="Liberation Serif" font-weight="normal" text-anchor="start" letter-spacing="-0.5">C6</text>
<text x="71" y="317.5" fill="#31317a" stroke="#31317a" stroke-width="0.35" font-size="10" font-family="Liberation Serif" font-weight="normal" text-anchor="start" letter-spacing="-0.6">DJ</text>
<text x="82.5" y="317.5" fill="#24242c" stroke="#24242c" stroke-width="0.35" font-size="10" font-family="Liberation Serif" font-weight="normal" text-anchor="start" letter-spacing="-0.6">47UF</text>
<text x="129" y="313.7" fill="#31317a" stroke="#31317a" stroke-width="0.35" font-size="10" font-family="Liberation Serif" font-weight="normal" text-anchor="start" letter-spacing="-0.5">R3</text>
<text x="152.5" y="311" fill="#24242c" stroke="#24242c" stroke-width="0.35" font-size="10" font-family="Liberation Serif" font-weight="normal" text-anchor="start" letter-spacing="-0.5">10K</text>
<text x="197.6" y="314" fill="#31317a" stroke="#31317a" stroke-width="0.35" font-size="10" font-family="Liberation Serif" font-weight="normal" text-anchor="start" letter-spacing="-0.5">R16</text>
<text x="221" y="311" fill="#24242c" stroke="#24242c" stroke-width="0.35" font-size="10" font-family="Liberation Serif" font-weight="normal" text-anchor="start" letter-spacing="-0.5">47K</text>
<text x="301.6" y="314" fill="#24242c" stroke="#24242c" stroke-width="0.35" font-size="10" font-family="Liberation Serif" font-weight="normal" text-anchor="start" letter-spacing="-0.5">50K</text>
<text x="336" y="313.5" fill="#31317a" stroke="#31317a" stroke-width="0.35" font-size="10" font-family="Liberation Serif" font-weight="normal" text-anchor="start" letter-spacing="-0.5">RP1</text>
<text x="370.5" y="235.5" fill="#31317a" stroke="#31317a" stroke-width="0.35" font-size="10" font-family="Liberation Serif" font-weight="normal" text-anchor="start" letter-spacing="-0.5">C3</text>
<text x="371" y="271.5" fill="#24242c" stroke="#24242c" stroke-width="0.35" font-size="10" font-family="Liberation Serif" font-weight="normal" text-anchor="start" letter-spacing="-0.5">10UF</text>
<text x="422.5" y="246.5" fill="#31317a" stroke="#31317a" stroke-width="0.35" font-size="10" font-family="Liberation Serif" font-weight="normal" text-anchor="start" letter-spacing="-0.5">R7</text>
<text x="422.5" y="257.5" fill="#24242c" stroke="#24242c" stroke-width="0.35" font-size="10" font-family="Liberation Serif" font-weight="normal" text-anchor="start" letter-spacing="-0.5">1K</text>
<text x="464" y="246.5" fill="#31317a" stroke="#31317a" stroke-width="0.35" font-size="10" font-family="Liberation Serif" font-weight="normal" text-anchor="start" letter-spacing="-0.5">D4</text>
<text x="429" y="341" fill="#31317a" stroke="#31317a" stroke-width="0.35" font-size="10" font-family="Liberation Serif" font-weight="normal" text-anchor="start" letter-spacing="-0.5">D5</text>
<text x="462" y="355" fill="#31317a" stroke="#31317a" stroke-width="0.35" font-size="10" font-family="Liberation Serif" font-weight="normal" text-anchor="start" letter-spacing="-0.5">C2</text>
<text x="463" y="390.5" fill="#24242c" stroke="#24242c" stroke-width="0.35" font-size="10" font-family="Liberation Serif" font-weight="normal" text-anchor="start" letter-spacing="-0.5">1UF</text>
<text x="471" y="224" fill="#2c2c6c" stroke="#2c2c6c" stroke-width="0.35" font-size="10" font-family="Liberation Serif" font-weight="normal" text-anchor="start" letter-spacing="0.3" transform="rotate(-90 471 224)">IN4148</text>
<text x="402.5" y="331" fill="#2c2c6c" stroke="#2c2c6c" stroke-width="0.35" font-size="10" font-family="Liberation Serif" font-weight="normal" text-anchor="start" letter-spacing="0.3" transform="rotate(-90 402.5 331)">IN4148</text>
<g style="mix-blend-mode:multiply" fill="#f4b2cb" stroke="#fff" stroke-width="0.8" font-size="60" font-family="Liberation Sans"><text transform="translate(192.7 270.5) scale(0.8 1)">w</text><text transform="translate(227.5 270.5) scale(0.8 1)">w</text><text transform="translate(262.4 270.5) scale(0.8 1)">w</text><text transform="translate(308 270.5) scale(0.8 1)">5</text><text transform="translate(360.4 270.5) scale(0.8 1)">d</text><text transform="translate(387 270.5) scale(0.8 1)">z</text><text transform="translate(419 270.5) scale(0.8 1)">c</text><text transform="translate(439.4 270.5) scale(0.8 1)">o</text><text transform="translate(465.2 270.5) scale(0.8 1)">m</text><polygon stroke="none" points="345,229.5 349.6,229.5 349.6,270.5 345,270.5 345,235.5 338,239 338,234.5"/><rect stroke="none" x="300.5" y="263.5" width="6" height="6.5" rx="1"/><rect stroke="none" x="409" y="263.5" width="6" height="6.5" rx="1"/></g>
</svg>
</body></html>
